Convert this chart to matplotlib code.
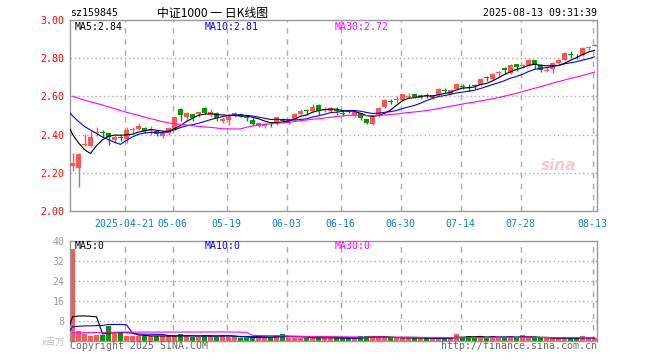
import numpy as np
import matplotlib.pyplot as plt

# closes / volumes before the first visible day (only feed the moving averages)
prev_close = [2.62, 2.64, 2.66, 2.65, 2.67, 2.68, 2.66, 2.69, 2.70, 2.68,
              2.67, 2.69, 2.66, 2.64, 2.65, 2.62, 2.63, 2.61, 2.60, 2.62,
              2.60, 2.61, 2.58, 2.59, 2.60, 2.52, 2.53, 2.49, 2.21]
prev_vol = [2.0, 2.1, 1.9, 2.0, 2.2, 1.9, 2.0, 2.1, 1.8, 2.0,
            2.1, 2.0, 1.9, 2.0, 2.1, 2.0, 1.9, 2.0, 2.1, 1.9,
            1.7, 1.6, 1.8, 1.7, 1.7, 2.4, 2.6, 2.9, 3.6]

opens = [2.235, 2.223, 2.346, 2.341, 2.410, 2.413, 2.406, 2.371, 2.389, 2.376,
         2.423, 2.431, 2.436, 2.418, 2.420, 2.394, 2.406, 2.429, 2.535, 2.494,
         2.508, 2.508, 2.538, 2.505, 2.512, 2.470, 2.478, 2.500, 2.508, 2.494,
         2.478, 2.447, 2.443, 2.457, 2.459, 2.482, 2.459, 2.482, 2.508, 2.528,
         2.522, 2.556, 2.530, 2.526, 2.530, 2.513, 2.525, 2.505, 2.511, 2.479,
         2.456, 2.496, 2.544, 2.577, 2.579, 2.579, 2.596, 2.611, 2.593, 2.605,
         2.593, 2.605, 2.635, 2.614, 2.637, 2.656, 2.651, 2.658, 2.658, 2.698,
         2.689, 2.723, 2.746, 2.721, 2.768, 2.761, 2.765, 2.789, 2.765, 2.733,
         2.741, 2.776, 2.788, 2.822, 2.814, 2.817, 2.853, 2.864]
highs = [2.306, 2.305, 2.403, 2.420, 2.440, 2.425, 2.410, 2.400, 2.400, 2.438,
         2.440, 2.460, 2.440, 2.445, 2.425, 2.417, 2.440, 2.494, 2.538, 2.520,
         2.510, 2.520, 2.545, 2.535, 2.517, 2.490, 2.510, 2.520, 2.512, 2.505,
         2.490, 2.464, 2.460, 2.465, 2.494, 2.487, 2.485, 2.512, 2.535, 2.535,
         2.558, 2.558, 2.545, 2.545, 2.545, 2.523, 2.530, 2.523, 2.515, 2.484,
         2.496, 2.545, 2.588, 2.588, 2.600, 2.614, 2.619, 2.612, 2.611, 2.619,
         2.609, 2.642, 2.646, 2.637, 2.672, 2.663, 2.663, 2.667, 2.698, 2.707,
         2.725, 2.733, 2.754, 2.768, 2.772, 2.772, 2.795, 2.793, 2.768, 2.752,
         2.778, 2.795, 2.830, 2.835, 2.822, 2.858, 2.866, 2.875]
lows = [2.209, 2.124, 2.340, 2.336, 2.390, 2.385, 2.346, 2.362, 2.367, 2.358,
        2.410, 2.425, 2.407, 2.400, 2.390, 2.380, 2.400, 2.424, 2.473, 2.478,
        2.470, 2.490, 2.510, 2.494, 2.473, 2.460, 2.452, 2.490, 2.494, 2.470,
        2.447, 2.438, 2.434, 2.440, 2.452, 2.468, 2.456, 2.477, 2.503, 2.500,
        2.517, 2.500, 2.519, 2.519, 2.505, 2.496, 2.512, 2.491, 2.474, 2.456,
        2.449, 2.490, 2.537, 2.558, 2.567, 2.575, 2.589, 2.589, 2.588, 2.589,
        2.588, 2.600, 2.616, 2.611, 2.632, 2.637, 2.628, 2.637, 2.654, 2.681,
        2.684, 2.707, 2.716, 2.719, 2.733, 2.751, 2.760, 2.742, 2.730, 2.728,
        2.725, 2.772, 2.785, 2.800, 2.798, 2.814, 2.835, 2.862]
closes = [2.253, 2.300, 2.353, 2.389, 2.415, 2.410, 2.385, 2.389, 2.384, 2.424,
          2.428, 2.443, 2.417, 2.422, 2.403, 2.408, 2.433, 2.491, 2.500, 2.514,
          2.487, 2.517, 2.514, 2.517, 2.487, 2.482, 2.500, 2.515, 2.498, 2.487,
          2.455, 2.459, 2.456, 2.453, 2.491, 2.473, 2.482, 2.508, 2.526, 2.524,
          2.547, 2.521, 2.535, 2.540, 2.522, 2.510, 2.518, 2.518, 2.488, 2.461,
          2.491, 2.540, 2.579, 2.572, 2.586, 2.611, 2.602, 2.596, 2.605, 2.600,
          2.605, 2.637, 2.630, 2.632, 2.667, 2.651, 2.646, 2.653, 2.693, 2.695,
          2.719, 2.728, 2.739, 2.765, 2.754, 2.765, 2.789, 2.768, 2.740, 2.738,
          2.773, 2.790, 2.825, 2.818, 2.810, 2.851, 2.857, 2.870]
volumes = [36.8, 4.0, 2.9, 2.1, 2.5, 2.5, 6.1, 2.7, 3.1, 2.1,
           1.9, 2.1, 2.1, 2.0, 2.0, 1.9, 1.9, 2.0, 2.8, 1.9,
           1.7, 1.6, 2.4, 2.4, 1.6, 2.3, 1.6, 1.6, 1.3, 1.3,
           1.3, 1.9, 1.6, 1.3, 2.4, 2.8, 1.3, 1.3, 1.3, 1.3,
           1.3, 1.3, 1.3, 1.3, 1.1, 1.1, 1.1, 1.1, 2.0, 2.0,
           2.0, 1.3, 1.3, 1.1, 1.3, 1.3, 1.3, 1.1, 1.1, 1.1,
           1.1, 1.2, 1.1, 1.2, 2.8, 1.2, 2.0, 1.2, 2.0, 1.2,
           2.0, 1.1, 1.2, 2.0, 1.2, 2.4, 1.2, 1.1, 1.1, 1.1,
           1.2, 1.1, 1.2, 1.1, 1.1, 2.0, 1.3, 1.0]

tick_idx = [9, 17, 26, 36, 45, 55, 65, 75, 87]
tick_labels = ["2025-04-21", "05-06", "05-19", "06-03", "06-16",
               "06-30", "07-14", "07-28", "08-13"]
price_ticks = [2.0, 2.2, 2.4, 2.6, 2.8, 3.0]
vol_ticks = [8, 16, 24, 32, 40]
ma_price_text = ["MA5:2.84", "MA10:2.81", "MA30:2.72"]
ma_vol_text = ["MA5:0", "MA10:0", "MA30:0"]

RED = "#ff5555"
GREEN = "#009900"
GRID = "#aaaaaa"
MA_COLORS = ["black", "#0000ff", "#ff00ff"]
MONO = "DejaVu Sans Mono"
FS = 7.1


def moving_avg(prev, vals, n):
    full = np.array(prev + vals, dtype=float)
    out = np.convolve(full, np.ones(n) / n, mode="valid")
    x = np.arange(len(full))[n - 1:] - len(prev)
    return x, out


o = np.array(opens)
c = np.array(closes)
h = np.array(highs)
l = np.array(lows)
v = np.array(volumes)
x = np.arange(len(c))
up = c >= o
cols = np.where(up, RED, GREEN)

fig = plt.figure(figsize=(6.6, 3.6), dpi=100)
ax1 = fig.add_axes([0.1061, 0.4139, 0.7985, 0.5306])
ax2 = fig.add_axes([0.1061, 0.0528, 0.7985, 0.2778])

xt = np.array(tick_idx) - 0.3
for ax in (ax1, ax2):
    ax.set_xlim(-0.42, 87.42)
    for s in ax.spines.values():
        s.set_color("#999999")
        s.set_linewidth(1.0)
    for t in xt:
        ax.axvline(t, color=GRID, lw=1, ls=(0, (4, 4)), zorder=0)
    ax.tick_params(length=0)

# price panel
ax1.set_ylim(2.0, 3.0)
for yv in price_ticks[1:-1]:
    ax1.axhline(yv, color=GRID, lw=1, ls=(0, (1, 2)), zorder=0)
ax1.vlines(x, l, h, colors=cols, lw=1, zorder=2)
body = np.maximum(np.abs(c - o), 0.004)
ax1.bar(x, body, bottom=np.minimum(o, c), width=0.78, color=cols,
        linewidth=0, zorder=3)
for n, col in zip([5, 10, 30], MA_COLORS):
    mx, my = moving_avg(prev_close, closes, n)
    ax1.plot(mx, my, color=col, lw=0.8, zorder=4)
ax1.set_yticks(price_ticks)
ax1.set_yticklabels([f"{t:.2f}" for t in price_ticks], color="red",
                    family=MONO, fontsize=FS)
ax1.tick_params(axis="y", pad=4)
ax1.set_xticks(xt)
ax1.set_xticklabels(tick_labels, color="#0a7ecb", family=MONO, fontsize=FS)
ax1.tick_params(axis="x", pad=6)

for txt, col, px in zip(ma_price_text, MA_COLORS, [75, 205, 335]):
    ax1.text((px - 72.5) / 6, 2.965, txt, color=col, family=MONO,
             fontsize=FS, va="center", ha="left")
ax1.text(81, 2.24, "sina", color="#f2caca", fontsize=11, style="italic",
         fontweight="bold", ha="center", va="center", zorder=1)

# volume panel
ax2.set_ylim(0, 40)
for yv in vol_ticks[:-1]:
    ax2.axhline(yv, color=GRID, lw=1, ls=(0, (1, 2)), zorder=0)
ax2.bar(x, v, width=0.8, color=cols, linewidth=0, zorder=2)
for n, col in zip([5, 10, 30], MA_COLORS):
    mx, my = moving_avg(prev_vol, volumes, n)
    ax2.plot(mx, my, color=col, lw=0.8, zorder=3)
ax2.set_yticks(vol_ticks)
ax2.set_yticklabels([str(t) for t in vol_ticks], color="#999999",
                    family=MONO, fontsize=FS)
ax2.tick_params(axis="y", pad=4)
ax2.set_xticks([])
for txt, col, px in zip(ma_vol_text, MA_COLORS, [75, 205, 335]):
    ax2.text((px - 72.5) / 6, 37.9, txt, color=col, family=MONO,
             fontsize=FS, va="center", ha="left")

# header and footer texts
fig.text(70 / 660, 1 - 13 / 360, "sz159845", family=MONO, fontsize=FS,
         va="center", ha="left")
fig.text(213 / 660, 1 - 13 / 360, "中证1000 一 日K线图",
         family=["Noto Sans CJK SC", "DejaVu Sans"], fontsize=8.6,
         va="center", ha="center")
fig.text(597 / 660, 1 - 13 / 360, "2025-08-13 09:31:39", family=MONO,
         fontsize=FS, va="center", ha="right")
fig.text(66 / 660, 1 - 342 / 360, "x百万",
         family=["Noto Sans CJK SC", "DejaVu Sans"], fontsize=6.8,
         color="#bbbbbb", va="center", ha="right")
fig.text(70 / 660, 1 - 346 / 360, "Copyright 2025 SINA.COM", family=MONO,
         fontsize=FS, color="#666666", va="center", ha="left")
fig.text(597 / 660, 1 - 346 / 360, "http://finance.sina.com.cn", family=MONO,
         fontsize=FS, color="#666666", va="center", ha="right")

fig.savefig("out.png", dpi=100)
